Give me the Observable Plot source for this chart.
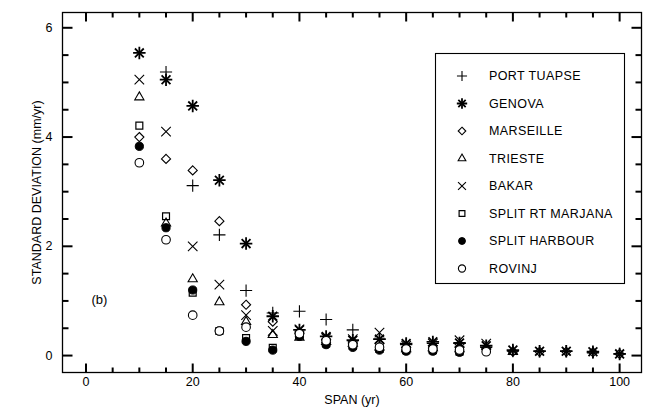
<!DOCTYPE html>
<html>
<head>
<meta charset="utf-8">
<script src="https://cdn.jsdelivr.net/npm/d3@7"></script>
<script src="https://cdn.jsdelivr.net/npm/@observablehq/plot@0.6"></script>
<style>
  html, body { margin: 0; padding: 0; background: #fff; }
  #chart { width: 653px; height: 409px; }
</style>
</head>
<body>
<div id="chart"></div>
<script>
// Averaging span (years)
const spans = [10, 15, 20, 25, 30, 35, 40, 45, 50, 55, 60, 65, 70, 75, 80, 85, 90, 95, 100];

// Standard deviation of trend (mm/yr) per station, aligned with spans (null = no estimate)
const portTuapse   = [null, 5.19, 3.11, 2.21, 1.19, 0.78, 0.81, 0.66, 0.47, 0.30, 0.20, 0.22, 0.22, 0.15, 0.08, 0.08, 0.08, 0.05, 0.03];
const genova       = [5.54, 5.05, 4.57, 3.21, 2.05, 0.72, 0.47, 0.35, 0.28, 0.30, 0.22, 0.25, 0.23, 0.18, 0.10, 0.08, 0.08, 0.07, 0.03];
const marseille    = [4.00, 3.60, 3.39, 2.46, 0.93, 0.62, 0.43, 0.30, 0.25, 0.22, 0.15, 0.18, 0.15, 0.12, 0.07, 0.07, 0.07, 0.06, 0.03];
const trieste      = [4.73, 2.42, 1.40, 0.98, 0.62, 0.38, 0.33, 0.25, 0.22, 0.15, 0.12, 0.14, 0.12, null, 0.07, null, null, null, null];
const bakar        = [5.05, 4.10, 2.00, 1.30, 0.74, 0.45, 0.48, 0.32, 0.30, 0.42, 0.18, 0.22, 0.28, 0.22, null, null, null, null, null];
const splitRT      = [4.21, 2.55, 1.15, 0.45, 0.32, 0.14, 0.38, 0.22, 0.18, 0.12, 0.10, 0.10, 0.07, null, null, null, null, null, null];
const splitHarbour = [3.83, 2.34, 1.20, 0.45, 0.26, 0.10, 0.35, 0.20, 0.15, 0.10, 0.08, 0.08, 0.06, null, null, null, null, null, null];
const rovinj       = [3.53, 2.12, 0.74, 0.45, 0.52, null, 0.40, 0.27, 0.20, 0.15, 0.12, 0.12, 0.10, 0.07, null, null, null, null, null];

// Station names as shown in the key
const stationNames = ["PORT TUAPSE", "GENOVA", "MARSEILLE", "TRIESTE", "BAKAR", "SPLIT RT MARJANA", "SPLIT HARBOUR", "ROVINJ"];

// Axis ticks
const xMajorTicks = [0, 20, 40, 60, 80, 100];
const xMinorTicks = [5, 10, 15, 25, 30, 35, 45, 50, 55, 65, 70, 75, 85, 90, 95];
const yMajorTicks = [0, 2, 4, 6];
const yMinorTicks = [0.5, 1, 1.5, 2.5, 3, 3.5, 4.5, 5, 5.5];

// Panel tag
const panelNote = [{span: 2.5, sd: 1.02, text: "(b)"}];

// Marker style for each station: one or more symbols drawn on top of each other
const styles = [
  {symbols: ["plus"], fill: "none", stroke: "black", sw: 1.1, r: 4.0},
  {symbols: ["plus", "times"], fill: "none", stroke: "black", sw: 1.8, r: 4.1},
  {symbols: ["diamond2"], fill: "none", stroke: "black", sw: 1.1, r: 4.1},
  {symbols: ["triangle2"], fill: "none", stroke: "black", sw: 1.1, r: 4.4},
  {symbols: ["times"], fill: "none", stroke: "black", sw: 1.1, r: 4.4},
  {symbols: ["square2"], fill: "none", stroke: "black", sw: 1.2, r: 4.4},
  {symbols: ["circle"], fill: "black", stroke: "black", sw: 1.0, r: 4.1},
  {symbols: ["circle"], fill: "white", stroke: "black", sw: 1.1, r: 4.3}
];

const seriesValues = [portTuapse, genova, marseille, trieste, bakar, splitRT, splitHarbour, rovinj];

const rows = (values) => spans.map((s, i) => ({span: s, sd: values[i]})).filter(d => d.sd != null);

const dotMarks = [];
seriesValues.forEach((values, k) => {
  const st = styles[k];
  for (const sym of st.symbols) {
    dotMarks.push(Plot.dot(rows(values), {
      x: "span", y: "sd", symbol: sym, r: st.r,
      fill: st.fill, stroke: st.stroke, strokeWidth: st.sw
    }));
  }
});

// Frame geometry
const W = 653, H = 409, mL = 62, mR = 12, mT = 12, mB = 37;
const xDomain = [-4.4, 104.1];
const yDomain = [-0.31, 6.28];

// Inward tick segments on all four sides of the frame, as link marks in data space
const xSpan = xDomain[1] - xDomain[0], ySpan = yDomain[1] - yDomain[0];
const innerW = W - mL - mR, innerH = H - mT - mB;
const xTickLinks = (ticks, len) => ticks.flatMap(v => [
  {x1: v, x2: v, y1: yDomain[0], y2: yDomain[0] + len * ySpan / innerH},
  {x1: v, x2: v, y1: yDomain[1], y2: yDomain[1] - len * ySpan / innerH}
]);
const yTickLinks = (ticks, len) => ticks.flatMap(v => [
  {y1: v, y2: v, x1: xDomain[0], x2: xDomain[0] + len * xSpan / innerW},
  {y1: v, y2: v, x1: xDomain[1], x2: xDomain[1] - len * xSpan / innerW}
]);
const tickSegments = [
  ...xTickLinks(xMinorTicks, 5), ...xTickLinks(xMajorTicks, 9),
  ...yTickLinks(yMinorTicks, 6), ...yTickLinks(yMajorTicks, 10)
];

const chart = Plot.plot({
  width: W,
  height: H,
  marginLeft: mL,
  marginRight: mR,
  marginTop: mT,
  marginBottom: mB,
  style: {fontFamily: "'Liberation Sans', Arial, sans-serif", fontSize: "12px", background: "white", color: "black"},
  x: {domain: xDomain},
  y: {domain: yDomain},
  marks: [
    // tick labels and axis titles
    Plot.axisX({anchor: "bottom", ticks: xMajorTicks, tickSize: 0, tickPadding: 5, fontSize: 12.5,
      tickFormat: d3.format("d"),
      label: "SPAN (yr)", labelAnchor: "center", labelOffset: 31, labelArrow: "none"}),
    Plot.axisY({anchor: "left", ticks: yMajorTicks, tickSize: 0, tickPadding: 10, fontSize: 12.5,
      tickFormat: d3.format("d"),
      label: "STANDARD DEVIATION (mm/yr)", labelAnchor: "center", labelOffset: 30, labelArrow: "none"}),
    Plot.link(tickSegments, {x1: "x1", y1: "y1", x2: "x2", y2: "y2", stroke: "black", strokeWidth: 2}),
    Plot.frame({stroke: "black", strokeWidth: 1.3}),
    ...dotMarks,
    Plot.text(panelNote, {x: "span", y: "sd", text: "text", fontSize: 13})
  ]
});

document.getElementById("chart").appendChild(chart);

const svg = d3.select(chart.tagName.toLowerCase() === "svg" ? chart : chart.querySelector("svg"));

// Key box inside the panel
const key = svg.append("g")
  .attr("font-family", "'Liberation Sans', Arial, sans-serif")
  .attr("font-size", 12.5)
  .attr("text-anchor", "start");
key.append("rect").attr("x", 435.5).attr("y", 53.5).attr("width", 189).attr("height", 230)
  .attr("fill", "white").attr("stroke", "black").attr("stroke-width", 1.1);
const symbolTypes = {
  plus: d3.symbolPlus, times: d3.symbolTimes, diamond2: d3.symbolDiamond2,
  triangle2: d3.symbolTriangle2, square2: d3.symbolSquare2, circle: d3.symbolCircle
};
stationNames.forEach((name, i) => {
  const cy = 76 + i * 27.5;
  const st = styles[i];
  for (const sym of st.symbols) {
    key.append("path")
      .attr("transform", `translate(462,${cy})`)
      .attr("d", d3.symbol(symbolTypes[sym], Math.PI * st.r * st.r * 0.7)())
      .attr("fill", st.fill).attr("stroke", st.stroke).attr("stroke-width", st.sw);
  }
  key.append("text").attr("x", 489).attr("y", cy).attr("dy", "0.35em").attr("fill", "black")
    .attr("text-anchor", "start").attr("letter-spacing", "0.4px").text(name);
});
</script>
</body>
</html>
